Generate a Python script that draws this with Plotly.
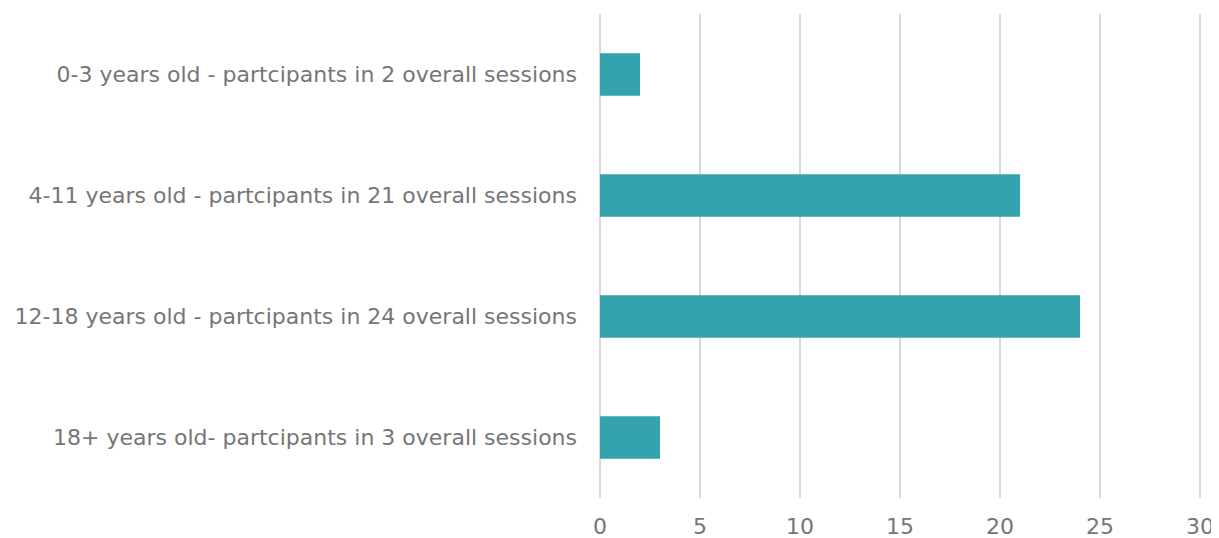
import plotly.graph_objects as go

categories = [
    "0-3 years old - partcipants in 2 overall sessions",
    "4-11 years old - partcipants in 21 overall sessions",
    "12-18 years old - partcipants in 24 overall sessions",
    "18+ years old- partcipants in 3 overall sessions",
]
values = [2, 21, 24, 3]
x_ticks = [0, 5, 10, 15, 20, 25, 30]

font_family = "DejaVu Sans, sans-serif"
text_color = "#767676"
grid_color = "#d9d9d9"
bar_color = "#35A3AE"

fig = go.Figure(
    go.Bar(
        x=values,
        y=categories,
        orientation="h",
        marker=dict(color=bar_color, line=dict(width=0)),
    )
)

# page body has an 8px default margin, so the figure is sized/offset for it
fig.update_layout(
    width=1211,
    height=530,
    margin=dict(l=592, r=17, t=6, b=40),
    paper_bgcolor="white",
    plot_bgcolor="white",
    bargap=0.65,
    showlegend=False,
    font=dict(family=font_family, size=20, color=text_color),
)

fig.update_xaxes(
    range=[0, 30.1],
    tickvals=x_ticks,
    ticktext=[str(t) for t in x_ticks],
    showgrid=True,
    gridcolor=grid_color,
    gridwidth=2,
    zeroline=True,
    zerolinecolor=grid_color,
    zerolinewidth=2,
    showline=False,
    ticks="",
    ticklabelstandoff=13,
    tickfont=dict(family=font_family, size=22, color=text_color),
    automargin=False,
)

fig.update_yaxes(
    categoryorder="array",
    categoryarray=categories[::-1],
    showgrid=False,
    zeroline=False,
    showline=False,
    ticks="",
    ticklabelstandoff=22,
    tickfont=dict(family=font_family, size=22, color=text_color),
    automargin=False,
)

fig.write_html("out.html")
